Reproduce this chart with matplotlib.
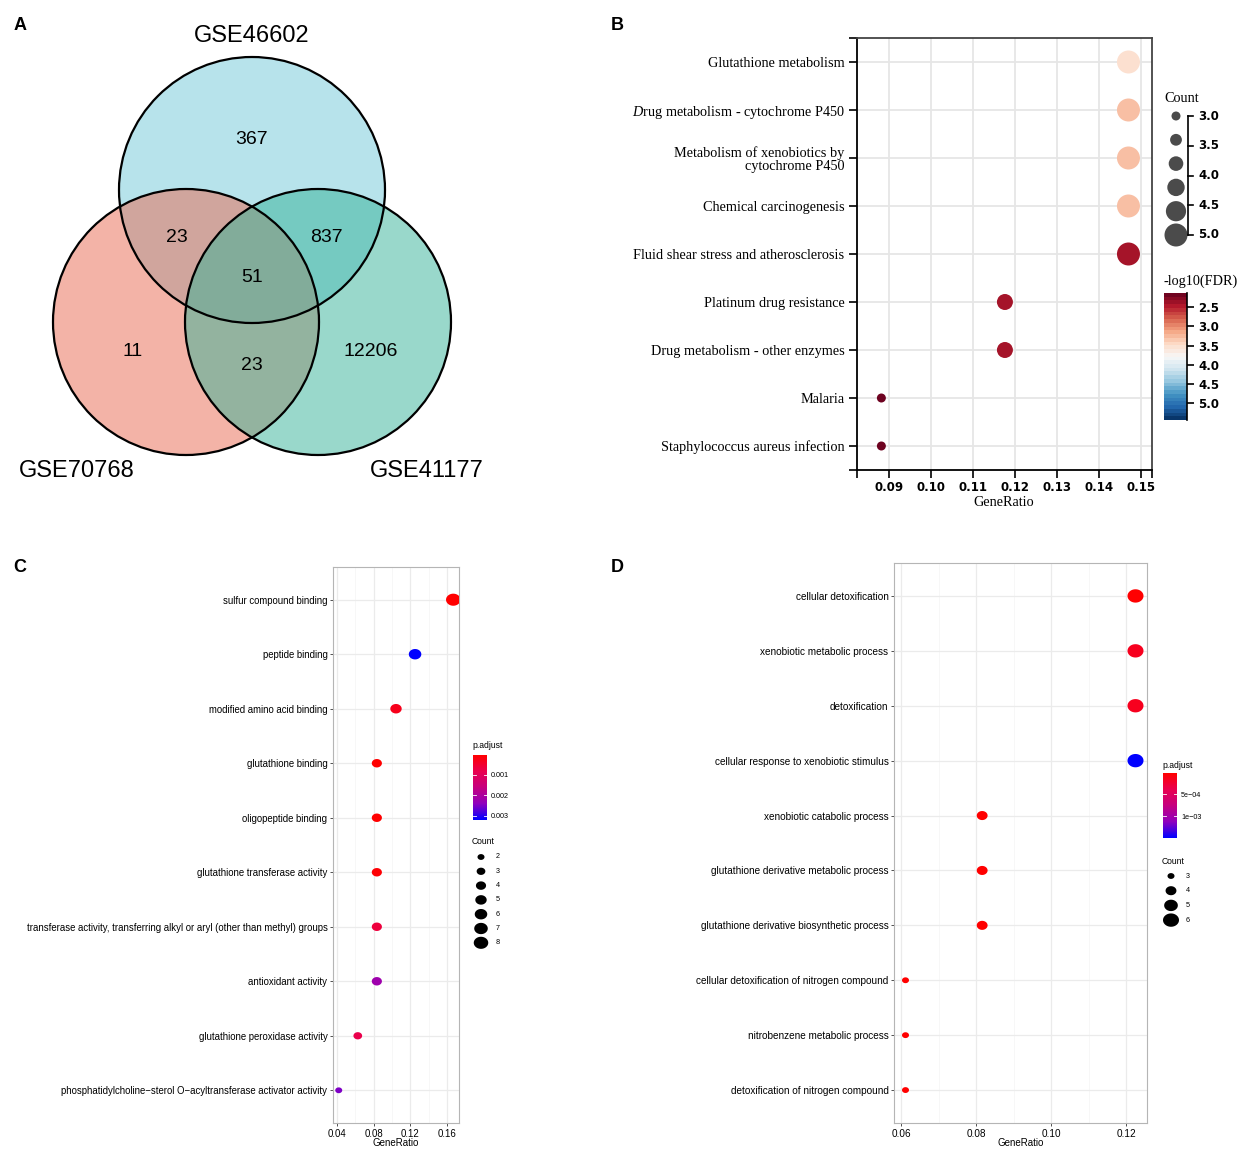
import numpy as np
import matplotlib
matplotlib.use('Agg')
import matplotlib.pyplot as plt
from matplotlib.colors import LinearSegmentedColormap, Normalize
from matplotlib.path import Path
from matplotlib.patches import Circle
from matplotlib.ticker import MultipleLocator, FormatStrFormatter

plt.rcParams['font.family'] = ['Liberation Sans', 'DejaVu Sans']
plt.rcParams['mathtext.fontset'] = 'custom'
plt.rcParams['mathtext.rm'] = 'Liberation Serif'
plt.rcParams['mathtext.it'] = 'Liberation Serif:italic'

# ---------------- data ----------------
venn_names = ['GSE46602', 'GSE70768', 'GSE41177']
venn_only = [367, 11, 12206]          # unique to 46602, 70768, 41177
venn_pairs = [23, 837, 23]            # 46602&70768, 46602&41177, 70768&41177
venn_all = 51

kegg_terms = ['Glutathione metabolism',
              r'$\it{D}$rug metabolism - cytochrome P450',
              'Metabolism of xenobiotics by\ncytochrome P450',
              'Chemical carcinogenesis',
              'Fluid shear stress and atherosclerosis',
              'Platinum drug resistance',
              'Drug metabolism - other enzymes',
              'Malaria',
              'Staphylococcus aureus infection']
kegg_ratio = [0.147, 0.147, 0.147, 0.147, 0.147, 0.1176, 0.1176, 0.0882, 0.0882]
kegg_count = [5, 5, 5, 5, 5, 4, 4, 3, 3]
kegg_logfdr = [3.52, 3.29, 3.29, 3.29, 2.41, 2.41, 2.41, 2.16, 2.16]
kegg_fdr_ticks = [2.5, 3.0, 3.5, 4.0, 4.5, 5.0]
kegg_count_ticks = [3.0, 3.5, 4.0, 4.5, 5.0]
kegg_count_keys = [3.0, 3.4, 3.8, 4.2, 4.6, 5.0]

mf_terms = ['sulfur compound binding', 'peptide binding', 'modified amino acid binding',
            'glutathione binding', 'oligopeptide binding', 'glutathione transferase activity',
            'transferase activity, transferring alkyl or aryl (other than methyl) groups',
            'antioxidant activity', 'glutathione peroxidase activity',
            'phosphatidylcholine\u2212sterol O\u2212acyltransferase activator activity']
mf_ratio = [0.1667, 0.125, 0.1042, 0.0833, 0.0833, 0.0833, 0.0833, 0.0833, 0.0625, 0.0417]
mf_count = [8, 6, 5, 4, 4, 4, 4, 4, 3, 2]
mf_padj = [0.00004, 0.0032, 0.00032, 0.00004, 0.00004, 0.00008, 0.00065, 0.0022, 0.0008, 0.0025]
mf_padj_ticks = [0.001, 0.002, 0.003]
mf_count_keys = [2, 3, 4, 5, 6, 7, 8]

bp_terms = ['cellular detoxification', 'xenobiotic metabolic process', 'detoxification',
            'cellular response to xenobiotic stimulus', 'xenobiotic catabolic process',
            'glutathione derivative metabolic process', 'glutathione derivative biosynthetic process',
            'cellular detoxification of nitrogen compound', 'nitrobenzene metabolic process',
            'detoxification of nitrogen compound']
bp_ratio = [0.1224, 0.1224, 0.1224, 0.1224, 0.0816, 0.0816, 0.0816, 0.0612, 0.0612, 0.0612]
bp_count = [6, 6, 6, 6, 4, 4, 4, 3, 3, 3]
bp_padj = [0.00003, 0.00016, 0.00016, 0.0015, 0.00002, 0.00002, 0.00002, 0.00002, 0.00002, 0.00002]
bp_padj_ticks = [0.0005, 0.001]
bp_padj_ticklabels = ['5e\u221204', '1e\u221203']
bp_count_keys = [3, 4, 5, 6]

# ---------------- figure ----------------
W, H = 1248, 1156
fig = plt.figure(figsize=(W / 100, H / 100), dpi=100)


def rect(l, t, r, b):
    return [l / W, 1 - b / H, (r - l) / W, (b - t) / H]


ov = fig.add_axes([0, 0, 1, 1])
ov.set_xlim(0, W)
ov.set_ylim(H, 0)
ov.axis('off')

# panel letters
for lt, (x, y) in zip('ABCD', [(20, 25), (617, 25), (20, 568), (617, 568)]):
    ov.text(x, y, lt, fontsize=13, fontweight='bold', ha='center', va='center')

# ---------------- A: Venn ----------------
R = 133
centers = [(252, 190), (186, 322), (318, 322)]
fills = ['#71c9d9', '#e96951', '#35b399']
for (cx, cy), fc in zip(centers, fills):
    ov.add_patch(Circle((cx, cy), R, facecolor=fc, alpha=0.5, edgecolor='none'))
for (cx, cy) in centers:
    ov.add_patch(Circle((cx, cy), R, facecolor='none', edgecolor='black', lw=1.6))
ov.text(252, 36, venn_names[0], fontsize=17, ha='center', va='center')
ov.text(77, 471, venn_names[1], fontsize=17, ha='center', va='center')
ov.text(427, 471, venn_names[2], fontsize=17, ha='center', va='center')
num_pos_only = [(252, 140), (133, 352), (371, 352)]
num_pos_pair = [(177, 237), (326, 237), (252, 365)]
for v, (x, y) in zip(venn_only, num_pos_only):
    ov.text(x, y, str(v), fontsize=14, ha='center', va='center')
for v, (x, y) in zip(venn_pairs, num_pos_pair):
    ov.text(x, y, str(v), fontsize=14, ha='center', va='center')
ov.text(252, 277, str(venn_all), fontsize=14, ha='center', va='center')

# ---------------- B: KEGG ----------------
axB = fig.add_axes(rect(857, 38, 1152, 470))
yB = np.arange(len(kegg_terms))


def size_B(c):
    return ((9 + 7 * (c - 3)) * 0.72) ** 2


normB = Normalize(2.13, 5.44)
axB.scatter(kegg_ratio, yB, s=[size_B(c) for c in kegg_count], c=kegg_logfdr,
            cmap='RdBu', norm=normB, edgecolors='none', zorder=3)
axB.set_ylim(len(kegg_terms) - 0.5, -0.5)
axB.set_xlim(0.0824, 0.1526)
axB.set_yticks(yB)
axB.set_yticklabels(kegg_terms, fontfamily='Liberation Serif', fontsize=10.3, linespacing=1.0)
xtB = np.round(np.arange(0.09, 0.1501, 0.01), 2)
axB.set_xticks(xtB)
axB.set_xticklabels(['%.2f' % v for v in xtB], fontfamily='DejaVu Sans', fontweight='bold', fontsize=8.5)
axB.set_yticks([-0.5, len(kegg_terms) - 0.5], minor=True)
axB.set_xticks([0.0824, 0.1526], minor=True)
axB.grid(True, which='major', color='#e6e6e6', lw=1.3)
axB.set_axisbelow(True)
axB.tick_params(which='both', direction='out', length=6, width=1.2)
axB.tick_params(axis='y', pad=3)
axB.tick_params(axis='x', pad=2)
for sp in ['left', 'bottom']:
    axB.spines[sp].set_color('black')
    axB.spines[sp].set_linewidth(1.3)
for sp in ['top', 'right']:
    axB.spines[sp].set_color('#444444')
    axB.spines[sp].set_linewidth(1.3)
ov.text(1004, 502, 'GeneRatio', fontsize=10.3, fontfamily='Liberation Serif', ha='center', va='center')

# B size legend
ov.text(1164, 99, 'Count', fontsize=10.3, fontfamily='Liberation Serif', ha='left', va='center')
for c in kegg_count_keys:
    ov.scatter([1176], [116 + (c - 3) * 59.5], s=size_B(c), color='#4b4b4b', edgecolors='none')
ov.plot([1188, 1188], [116, 235], color='black', lw=1.2)
for c in kegg_count_ticks:
    yy = 116 + (c - 3) * 59.5
    ov.plot([1188, 1193], [yy, yy], color='black', lw=1.2)
    ov.text(1198, yy, '%.1f' % c, fontsize=8.5, fontfamily='DejaVu Sans', fontweight='bold',
            ha='left', va='center')

# B colour bar
ov.text(1163, 281, '-log10(FDR)', fontsize=10.3, fontfamily='Liberation Serif', ha='left', va='center')
caxB = fig.add_axes(rect(1164, 293, 1187, 420))
edges = np.linspace(normB.vmin, normB.vmax, 35)
mids = (edges[:-1] + edges[1:]) / 2
caxB.pcolormesh([0, 1], edges, mids[:, None], cmap='RdBu', norm=normB, shading='flat')
caxB.set_ylim(normB.vmax, normB.vmin)
caxB.set_xlim(0, 1)
caxB.set_xticks([])
caxB.yaxis.tick_right()
caxB.set_yticks(kegg_fdr_ticks)
caxB.set_yticklabels(['%.1f' % v for v in kegg_fdr_ticks], fontfamily='DejaVu Sans',
                     fontweight='bold', fontsize=8.5)
caxB.tick_params(direction='out', length=5, width=1.2, pad=3)
for sp in ['top', 'left', 'bottom']:
    caxB.spines[sp].set_visible(False)
caxB.spines['right'].set_linewidth(1.2)

# ---------------- C / D: GO dot plots ----------------
cmap_rb = LinearSegmentedColormap.from_list(
    'rb', [(0, '#ff0000'), (0.25, '#e9004f'), (0.5, '#c5007f'), (0.75, '#9000bd'), (1, '#0000ff')])
tt = np.linspace(0, 2 * np.pi, 72)
ell = Path(np.column_stack([1.2 * np.cos(tt), np.sin(tt)]), closed=True)


def go_panel(box, terms, ratio, counts, padj, smin, smax, major, minor, lbl_x, lbl_y, fs):
    ax = fig.add_axes(rect(*box))
    y = np.arange(len(terms))
    cmin, cmax = min(counts), max(counts)
    sizes = [smin + (c - cmin) / (cmax - cmin) * (smax - smin) for c in counts]
    norm = Normalize(min(padj), max(padj))
    ax.scatter(ratio, y, s=sizes, c=padj, cmap=cmap_rb, norm=norm, marker=ell,
               edgecolors='none', zorder=3)
    lo, hi = min(ratio), max(ratio)
    pad = 0.05 * (hi - lo)
    ax.set_xlim(lo - pad, hi + pad)
    ax.set_ylim(len(terms) - 0.4, -0.6)
    ax.set_yticks(y)
    ax.set_yticklabels(terms, fontsize=fs)
    ax.xaxis.set_major_locator(MultipleLocator(major))
    ax.xaxis.set_minor_locator(MultipleLocator(minor))
    ax.xaxis.set_major_formatter(FormatStrFormatter('%.2f'))
    ax.grid(True, which='major', color='#ebebeb', lw=0.9)
    ax.grid(True, which='minor', axis='x', color='#f4f4f4', lw=0.5)
    ax.set_axisbelow(True)
    ax.tick_params(which='major', length=2.5, width=0.6, color='#333333', pad=1.5, labelsize=fs)
    ax.tick_params(which='minor', length=0)
    for sp in ax.spines.values():
        sp.set_color('#b5b5b5')
        sp.set_linewidth(0.8)
    ov.text(lbl_x, lbl_y, 'GeneRatio', fontsize=7, ha='center', va='center')
    return ax, norm, smin, smax, cmin, cmax


def legend_go(norm, cbox, title_xy, ticks, ticklabels, count_title_xy, keys, key_x, key_y0,
              key_dy, smin, smax, cmin, cmax):
    ov.text(title_xy[0], title_xy[1], 'p.adjust', fontsize=6.2, ha='left', va='center')
    cax = fig.add_axes(rect(*cbox))
    e = np.linspace(norm.vmin, norm.vmax, 201)
    m = (e[:-1] + e[1:]) / 2
    cax.pcolormesh([0, 1], e, m[:, None], cmap=cmap_rb, norm=norm, shading='flat')
    cax.set_ylim(norm.vmax, norm.vmin)
    cax.set_xlim(0, 1)
    cax.set_xticks([])
    cax.yaxis.tick_right()
    cax.set_yticks(ticks)
    cax.set_yticklabels(ticklabels, fontsize=5.2)
    cax.tick_params(length=0, pad=3)
    for t in ticks:
        cax.plot([0, 0.2], [t, t], color='white', lw=0.6)
        cax.plot([0.8, 1], [t, t], color='white', lw=0.6)
    for sp in cax.spines.values():
        sp.set_visible(False)
    ov.text(count_title_xy[0], count_title_xy[1], 'Count', fontsize=6.2, ha='left', va='center')
    for i, c in enumerate(keys):
        yy = key_y0 + i * key_dy
        s = smin + (c - cmin) / (cmax - cmin) * (smax - smin)
        ov.scatter([key_x], [yy], s=s, color='black', marker=ell, edgecolors='none')
        ov.text(key_x + 15, yy, str(c), fontsize=5.2, ha='left', va='center')


axC, nC, sminC, smaxC, cminC, cmaxC = go_panel(
    (333, 567, 459, 1123), mf_terms, mf_ratio, mf_count, mf_padj,
    (7 * 0.72) ** 2, (14.5 * 0.72) ** 2, 0.04, 0.02, 396, 1143, 6.9)
legend_go(nC, (473, 755, 487, 820), (472, 746), mf_padj_ticks, ['%.3f' % t for t in mf_padj_ticks],
          (472, 842), mf_count_keys, 481, 857, 14.3, sminC, smaxC, cminC, cmaxC)

axD, nD, sminD, smaxD, cminD, cmaxD = go_panel(
    (894, 563, 1147, 1123), bp_terms, bp_ratio, bp_count, bp_padj,
    (7 * 0.72) ** 2, (16 * 0.72) ** 2, 0.02, 0.01, 1021, 1143, 7.2)
legend_go(nD, (1163, 773, 1177, 838), (1162, 765), bp_padj_ticks, bp_padj_ticklabels,
          (1162, 861), bp_count_keys, 1171, 876, 14.7, sminD, smaxD, cminD, cmaxD)

fig.savefig('out.png', dpi=100)
